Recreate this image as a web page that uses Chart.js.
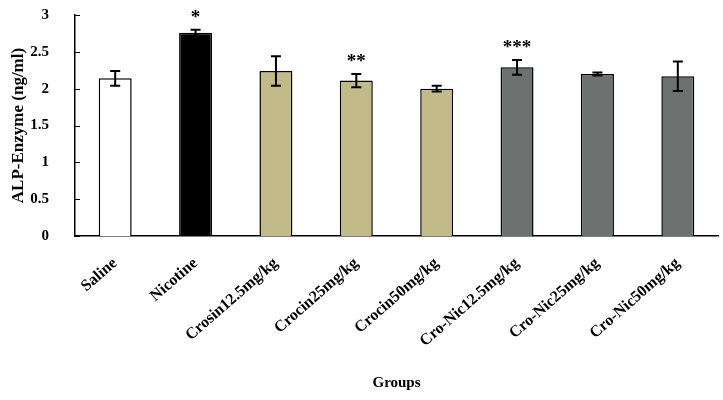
<!DOCTYPE html>
<html>
<head>
<meta charset="utf-8">
<script src="https://cdn.jsdelivr.net/npm/chart.js@4.4.0/dist/chart.umd.min.js"></script>
<style>
  html, body { margin: 0; padding: 0; background: #fff; }
</style>
</head>
<body>
<canvas id="chart" width="723" height="400"></canvas>
<script>
const groups = ['Saline', 'Nicotine', 'Crosin12.5mg/kg', 'Crocin25mg/kg', 'Crocin50mg/kg',
  'Cro-Nic12.5mg/kg', 'Cro-Nic25mg/kg', 'Cro-Nic50mg/kg']
const means = [2.14, 2.76, 2.24, 2.11, 2.00, 2.29, 2.20, 2.17]
const errors = [0.10, 0.04, 0.20, 0.09, 0.04, 0.10, 0.02, 0.20]
const marks = ['', '*', '', '**', '', '***', '', '']
const yTicks = [0, 0.5, 1, 1.5, 2, 2.5, 3]

const WHITE = '#ffffff', BLACK = '#000000', TAN = '#c3ba8a', GREY = '#6d7270'
const barColors = [WHITE, BLACK, TAN, TAN, TAN, GREY, GREY, GREY]

const FONT = "'Liberation Serif', 'Times New Roman', serif"

// error bars, significance stars and inward y ticks
const extras = {
  id: 'extras',
  afterDatasetsDraw(chart){
    const ctx = chart.ctx
    const y = chart.scales.y
    const meta = chart.getDatasetMeta(0)
    ctx.save()
    ctx.strokeStyle = BLACK
    ctx.fillStyle = BLACK
    ctx.lineWidth = 2
    meta.data.forEach((bar, i) => {
      const top = y.getPixelForValue(means[i] + errors[i])
      const bot = y.getPixelForValue(means[i] - errors[i])
      ctx.beginPath()
      ctx.moveTo(bar.x, top); ctx.lineTo(bar.x, bot)
      ctx.moveTo(bar.x - 5, top); ctx.lineTo(bar.x + 5, top)
      ctx.moveTo(bar.x - 5, bot); ctx.lineTo(bar.x + 5, bot)
      ctx.stroke()
      if (marks[i]){
        ctx.font = 'bold 19px ' + FONT
        ctx.textAlign = 'center'
        ctx.textBaseline = 'alphabetic'
        ctx.fillText(marks[i], bar.x, top - 7)
      }
    })
    ctx.lineWidth = 1
    const left = chart.chartArea.left
    yTicks.forEach(v => {
      const py = Math.round(y.getPixelForValue(v)) + 0.5
      ctx.beginPath()
      ctx.moveTo(left, py); ctx.lineTo(left + 5, py)
      ctx.stroke()
    })
    ctx.restore()
  }
}

new Chart(document.getElementById('chart'), {
  type: 'bar',
  data: {
    labels: groups,
    datasets: [{
      data: means,
      backgroundColor: barColors,
      borderColor: BLACK,
      borderWidth: 1.5,
      categoryPercentage: 1,
      barPercentage: 0.41,
    }],
  },
  options: {
    responsive: false,
    animation: false,
    devicePixelRatio: 1,
    layout: { padding: { top: 15, right: 5, left: 0, bottom: 0 } },
    plugins: {
      legend: { display: false },
      tooltip: { enabled: false },
    },
    scales: {
      x: {
        grid: { display: false },
        border: { display: true, color: BLACK, width: 1.5 },
        ticks: {
          color: BLACK,
          font: { family: FONT, size: 16, weight: 'bold' },
          minRotation: 41,
          maxRotation: 41,
          autoSkip: false,
          padding: 10,
        },
        title: {
          display: true,
          text: 'Groups',
          color: BLACK,
          font: { family: FONT, size: 15, weight: 'bold' },
          padding: { top: 4, bottom: 8 },
        },
        afterFit(scale){ scale.height = 164 },
      },
      y: {
        min: 0,
        max: 3,
        grid: { display: false },
        border: { display: true, color: BLACK, width: 1.5 },
        ticks: {
          stepSize: 0.5,
          color: BLACK,
          padding: 18,
          font: { family: FONT, size: 15, weight: 'bold' },
          callback: v => String(v),
        },
        title: {
          display: true,
          text: 'ALP-Enzyme (ng/ml)',
          color: BLACK,
          font: { family: FONT, size: 17, weight: 'bold' },
          padding: { top: 8, bottom: 4 },
        },
        afterFit(scale){
          scale.width = 75
          scale.paddingTop = 0
        },
      },
    },
  },
  plugins: [extras],
})
</script>
</body>
</html>
